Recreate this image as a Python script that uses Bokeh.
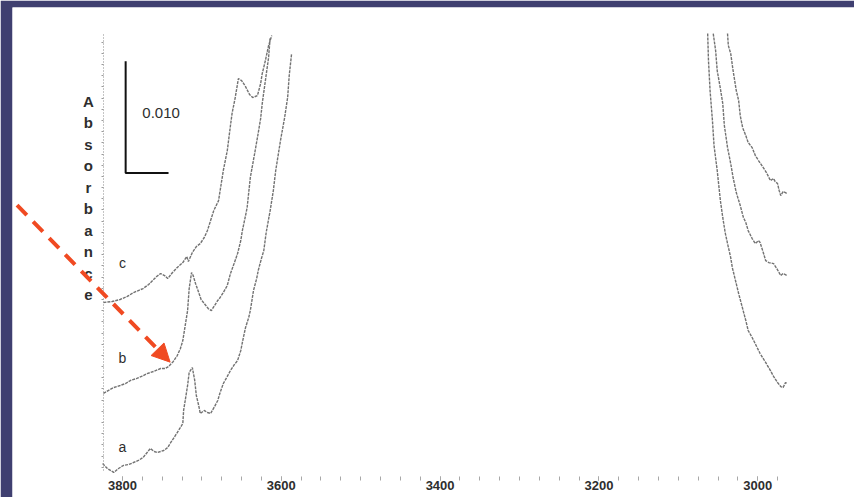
from bokeh.plotting import figure
from bokeh.models import (Range1d, LinearAxis, SingleIntervalTicker, FixedTicker,
                          Arrow, NormalHead, Label, ColumnDataSource)
from bokeh.core.properties import value
from bokeh.embed import file_html
from bokeh.resources import INLINE
import numpy as np

# ---- data (wavenumber, cm-1 ; absorbance) ----
tick_labels = ["3800", "3600", "3400", "3200", "3000"]
curve_names = ["a", "b", "c"]

# curve a (bottom)
a_hi_wn = [3825, 3819, 3811, 3805, 3799, 3792, 3786, 3780, 3774, 3769, 3765, 3760, 3756, 3752,
           3748, 3743, 3740, 3735, 3731, 3727, 3724, 3723, 3721, 3718, 3716, 3712, 3709, 3707,
           3704, 3702, 3697, 3693, 3689, 3684, 3680, 3677, 3673, 3668, 3664, 3659, 3655, 3651,
           3648, 3645, 3641, 3639, 3635, 3631, 3629, 3625, 3622, 3619, 3614, 3610, 3607, 3604,
           3601, 3596, 3592, 3590, 3587]
a_hi_abs = [0.00134, 0.00089, 0.00054, 0.00089, 0.00116, 0.00125, 0.00143, 0.00161, 0.00188,
            0.00232, 0.00268, 0.00241, 0.00232, 0.00241, 0.00250, 0.00277, 0.00313, 0.00366,
            0.00411, 0.00456, 0.00492, 0.00608, 0.00697, 0.00831, 0.00947, 0.00992, 0.00876,
            0.00742, 0.00652, 0.00581, 0.00608, 0.00590, 0.00581, 0.00643, 0.00697, 0.00769,
            0.00849, 0.00912, 0.00965, 0.01019, 0.01055, 0.01144, 0.01251, 0.01349, 0.01439,
            0.01501, 0.01680, 0.01787, 0.01859, 0.01966, 0.02038, 0.02199, 0.02395, 0.02574,
            0.02753, 0.02887, 0.03021, 0.03217, 0.03405, 0.03602, 0.03798]
a_lo_wn = [3063, 3062, 3060, 3057, 3055, 3051, 3047, 3044, 3041, 3038, 3034, 3032, 3028, 3024,
           3019, 3015, 3012, 3007, 3002, 2997, 2990, 2984, 2980, 2975, 2971, 2968, 2965, 2963]
a_lo_abs = [0.03977, 0.03736, 0.03468, 0.03199, 0.02976, 0.02753, 0.02484, 0.02333, 0.02199,
            0.02100, 0.01975, 0.01886, 0.01770, 0.01653, 0.01519, 0.01412, 0.01323, 0.01260,
            0.01189, 0.01117, 0.01037, 0.00965, 0.00912, 0.00858, 0.00822, 0.00813, 0.00858,
            0.00849]

# curve b (middle)
b_hi_wn = [3824, 3818, 3811, 3803, 3796, 3790, 3782, 3776, 3769, 3761, 3752, 3746, 3742, 3736,
           3731, 3727, 3724, 3721, 3718, 3716, 3713, 3711, 3708, 3704, 3701, 3695, 3692, 3688,
           3684, 3680, 3677, 3673, 3668, 3664, 3659, 3655, 3651, 3649, 3645, 3643, 3639, 3634,
           3630, 3626, 3624, 3620, 3616, 3614]
b_hi_abs = [0.00760, 0.00786, 0.00813, 0.00831, 0.00849, 0.00876, 0.00894, 0.00912, 0.00938,
            0.00956, 0.00983, 0.00983, 0.01001, 0.01046, 0.01099, 0.01162, 0.01233, 0.01367,
            0.01501, 0.01698, 0.01841, 0.01814, 0.01743, 0.01662, 0.01600, 0.01546, 0.01519,
            0.01501, 0.01546, 0.01591, 0.01618, 0.01662, 0.01725, 0.01832, 0.01930, 0.02011,
            0.02127, 0.02216, 0.02350, 0.02422, 0.02690, 0.02887, 0.03048, 0.03217, 0.03351,
            0.03557, 0.03762, 0.03941]
b_lo_wn = [3056, 3053, 3051, 3047, 3044, 3042, 3038, 3034, 3031, 3027, 3022, 3018, 3015, 3012,
           3007, 3003, 2999, 2997, 2993, 2990, 2986, 2980, 2976, 2971, 2968, 2963]
b_lo_abs = [0.03977, 0.03825, 0.03646, 0.03485, 0.03351, 0.03155, 0.02958, 0.02815, 0.02690,
            0.02556, 0.02440, 0.02333, 0.02288, 0.02216, 0.02145, 0.02100, 0.02127, 0.02109,
            0.02020, 0.01948, 0.01930, 0.01921, 0.01877, 0.01814, 0.01832, 0.01814]

# curve c (top)
c_hi_wn = [3824, 3813, 3803, 3794, 3786, 3780, 3774, 3767, 3762, 3757, 3752, 3747, 3743, 3737,
           3731, 3724, 3719, 3717, 3712, 3707, 3702, 3697, 3693, 3689, 3685, 3679, 3673, 3668,
           3664, 3662, 3658, 3654, 3650, 3645, 3640, 3636, 3630, 3626, 3624, 3620, 3616, 3612]
c_hi_abs = [0.01573, 0.01582, 0.01600, 0.01627, 0.01662, 0.01680, 0.01698, 0.01734, 0.01770,
            0.01805, 0.01832, 0.01814, 0.01787, 0.01841, 0.01886, 0.01930, 0.01984, 0.01939,
            0.02020, 0.02073, 0.02100, 0.02154, 0.02216, 0.02306, 0.02395, 0.02484, 0.02753,
            0.02931, 0.03155, 0.03262, 0.03405, 0.03575, 0.03557, 0.03503, 0.03432, 0.03405,
            0.03423, 0.03530, 0.03619, 0.03736, 0.03870, 0.03959]
c_lo_wn = [3038, 3037, 3034, 3031, 3027, 3024, 3022, 3019, 3015, 3012, 3007, 3003, 2999, 2993,
           2989, 2984, 2980, 2978, 2975, 2973, 2971, 2968, 2963]
c_lo_abs = [0.03977, 0.03870, 0.03798, 0.03646, 0.03468, 0.03378, 0.03244, 0.03137, 0.03065,
            0.03003, 0.02958, 0.02887, 0.02842, 0.02779, 0.02735, 0.02663, 0.02681, 0.02654,
            0.02636, 0.02574, 0.02529, 0.02565, 0.02547]

scale_value = 0.010
scale_text = "0.010"
y_title = "Absorbance"

# ---- styling ----
BG = "#3f3f70"
CURVE = "#727272"
TXT = "#2e2e2e"
RED = "#f04a22"

p = figure(width=854, height=497, output_backend="svg", toolbar_location=None,
           x_range=Range1d(3938.5, 2878.1), y_range=Range1d(-0.0017, 0.0421),
           x_axis_location=None, y_axis_location=None,
           min_border_left=12, min_border_top=7, min_border_right=0, min_border_bottom=0)
p.border_fill_color = BG
p.background_fill_color = "white"
p.outline_line_color = None
p.xgrid.visible = False
p.ygrid.visible = False

# x axis (ticks only)
xax = LinearAxis(fixed_location=0.0, bounds=(3824, 2955),
                 ticker=SingleIntervalTicker(interval=200, num_minor_ticks=8))
xax.axis_line_color = None
xax.major_tick_line_color = "#9a9a9a"
xax.minor_tick_line_color = "#a8a8a8"
xax.major_tick_in = 2
xax.major_tick_out = 2
xax.minor_tick_in = 2
xax.minor_tick_out = 2
xax.major_label_standoff = 1
xax.major_label_text_font = "Liberation Sans"
xax.major_label_text_font_size = "13px"
xax.major_label_text_font_style = "bold"
xax.major_label_text_color = TXT
xax.major_label_overrides = {3800: tick_labels[0], 3600: tick_labels[1], 3400: tick_labels[2],
                             3200: tick_labels[3], 3000: tick_labels[4]}
p.add_layout(xax, "below")

# y axis: dotted line with small ticks, no labels
yax = LinearAxis(fixed_location=3824, bounds=(0.0007, 0.0397),
                 ticker=FixedTicker(ticks=[], minor_ticks=list(np.arange(0.001, 0.0395, 0.001))))
yax.axis_line_color = "#8a8a8a"
yax.axis_line_dash = "1 2"
yax.axis_line_width = 1
yax.minor_tick_line_color = "#9a9a9a"
yax.minor_tick_in = 0
yax.minor_tick_out = 2
p.add_layout(yax, "left")

# spectra
for wn, ab in [(a_hi_wn, a_hi_abs), (a_lo_wn, a_lo_abs), (b_hi_wn, b_hi_abs),
               (b_lo_wn, b_lo_abs), (c_hi_wn, c_hi_abs), (c_lo_wn, c_lo_abs)]:
    p.line(wn, ab, line_color=CURVE, line_width=1.4, line_dash="3 1")

# curve labels
for name, yv in zip(curve_names, [0.0028, 0.0108, 0.0193]):
    p.add_layout(Label(x=3800, y=yv, text=name, text_font="Liberation Sans",
                       text_font_size="14px", text_color=TXT,
                       text_align="center", text_baseline="middle"))

# scale bar
bar_x = 3796
bar_base = 0.0273
p.line([bar_x, bar_x, bar_x - 54], [bar_base + scale_value, bar_base, bar_base],
       line_color="#111111", line_width=2)
p.add_layout(Label(x=3775, y=bar_base + scale_value * 0.54, text=scale_text,
                   text_font="Liberation Sans", text_font_size="15px", text_color=TXT,
                   text_align="left", text_baseline="middle"))

# vertical stacked y title
letters = list(y_title)
top_y, step = 0.0337, 0.00192
src = ColumnDataSource(dict(x=[3843] * len(letters),
                            y=[top_y - i * step for i in range(len(letters))],
                            t=letters))
p.text(x="x", y="y", text="t", source=src, text_font=value("Liberation Sans"),
       text_font_size="15px", text_font_style="bold", text_color=TXT,
       text_align="center", text_baseline="middle")

# red dashed arrow
p.add_layout(Arrow(x_start=3953, y_start=0.0259, x_end=3740, y_end=0.0104,
                   line_color=RED, line_width=4, line_dash="14 9",
                   end=NormalHead(size=18, fill_color=RED, line_color=RED)))

open("out.html", "w").write(file_html(p, INLINE))
